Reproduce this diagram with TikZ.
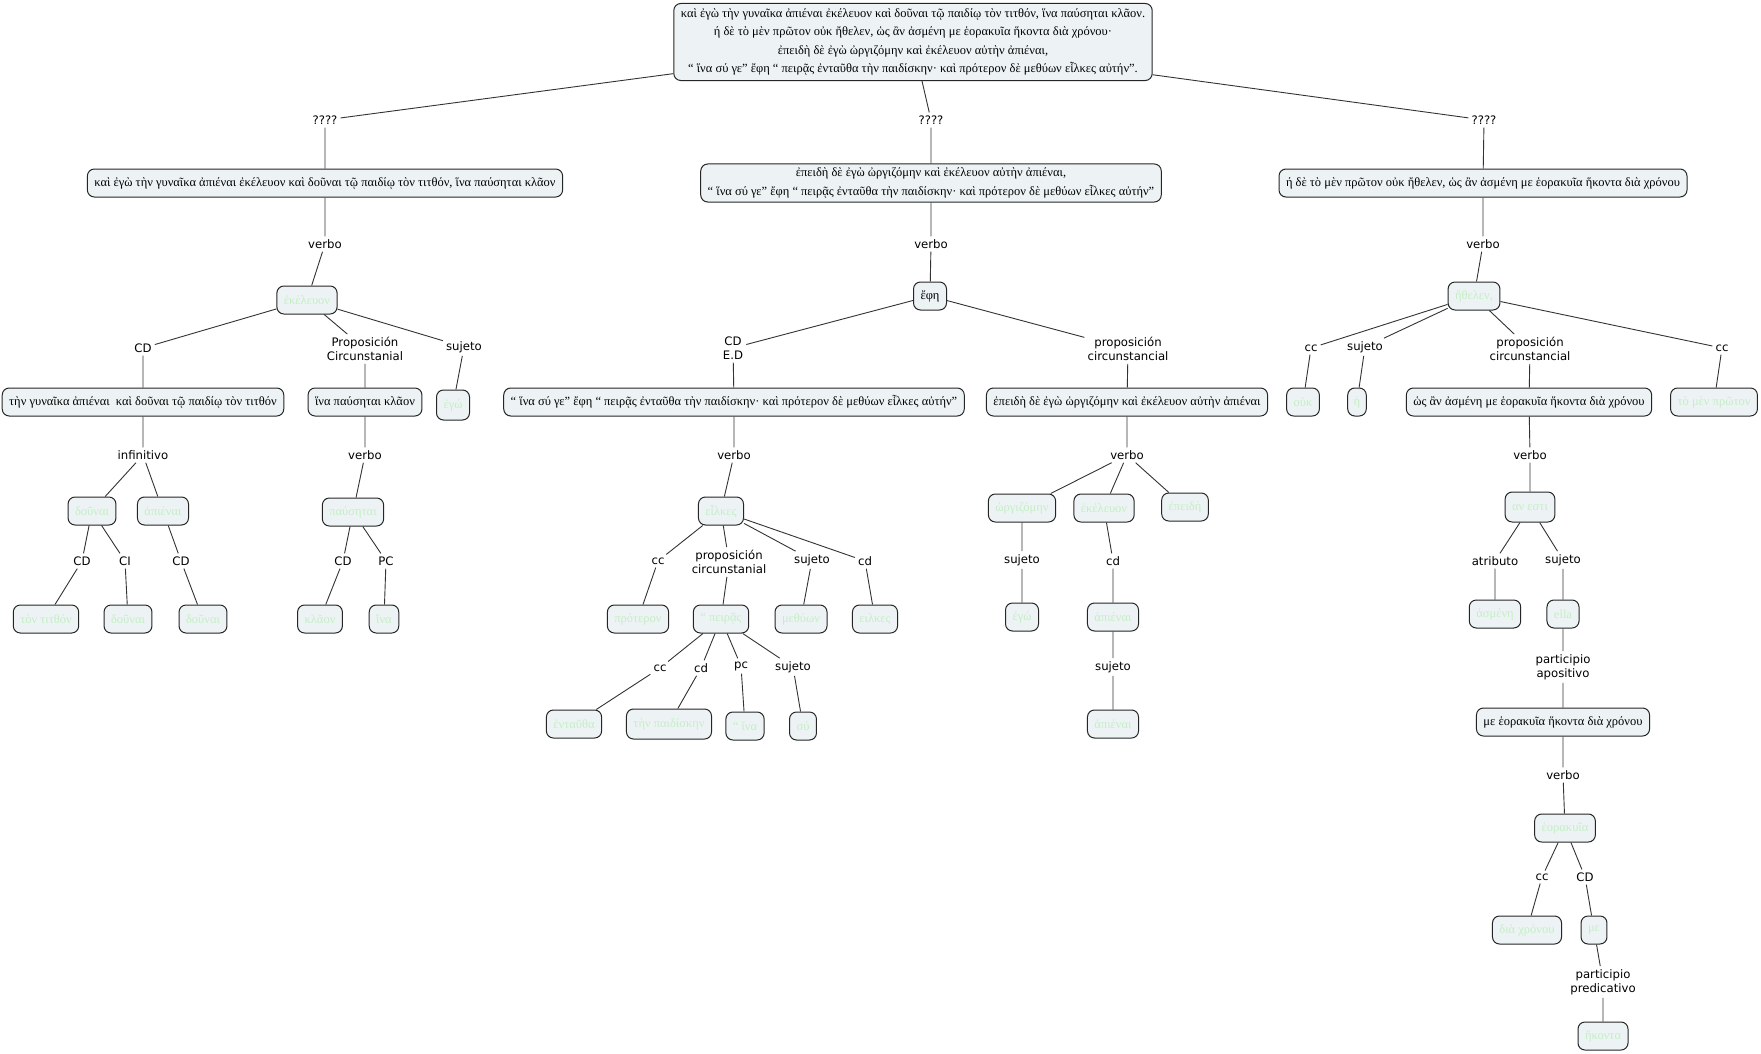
\documentclass[tikz,border=0pt]{standalone}
\usepackage{fontspec}
\setmainfont{Liberation Serif}
\newfontfamily\lblfont{DejaVu Sans}
\definecolor{boxfill}{RGB}{237,243,245}
\definecolor{faint}{RGB}{196,238,196}
\newcommand{\grk}{\fontsize{12.5}{18.5}\selectfont}
\newcommand{\lbf}{\lblfont\fontsize{11.7}{14}\selectfont}
\tikzset{
  box/.style={draw=black!85, fill=boxfill, rounded corners=7pt, line width=1pt,
    inner xsep=7pt, inner ysep=4pt, minimum height=28pt, font=\grk, align=center},
  fbox/.style={box, text=faint},
  lbl/.style={font=\lbf, inner sep=3pt, align=center},
  conn/.style={draw=black!80, line width=0.9pt}
}
\begin{document}
\begin{tikzpicture}[x=1pt,y=-1pt]
\useasboundingbox[fill=white] (0,0) rectangle (1761,1054);
% top
\node[box, inner ysep=5pt] (top) at (913,42) {καὶ ἐγὼ τὴν γυναῖκα ἀπιέναι ἐκέλευον καὶ δοῦναι τῷ παιδίῳ τὸν τιτθόν, ἵνα παύσηται κλᾶον.\\ ή δὲ τὸ μὲν πρῶτον οὐκ ἤθελεν, ὡς ἂν ἀσμένη με ἑορακυῖα ἥκοντα διὰ χρόνου·\\ ἐπειδὴ δὲ ἐγὼ ὠργιζόμην καὶ ἐκέλευον αὐτὴν ἀπιέναι,\\ “ ἵνα σύ γε” ἔφη “ πειρᾷς ἐνταῦθα τὴν παιδίσκην· καὶ πρότερον δὲ μεθύων εἷλκες αὐτήν”.};
\node[lbl] (q1) at (325,120) {????};
\node[lbl] (q2) at (931,120) {????};
\node[lbl] (q3) at (1484,120) {????};
\node[box] (L1a) at (325,183) {καὶ ἐγὼ τὴν γυναῖκα ἀπιέναι ἐκέλευον καὶ δοῦναι τῷ παιδίῳ τὸν τιτθόν, ἵνα παύσηται κλᾶον};
\node[box] (L1b) at (931,183) {ἐπειδὴ δὲ ἐγὼ ὠργιζόμην καὶ ἐκέλευον αὐτὴν ἀπιέναι,\\ “ ἵνα σύ γε” ἔφη “ πειρᾷς ἐνταῦθα τὴν παιδίσκην· καὶ πρότερον δὲ μεθύων εἷλκες αὐτήν”};
\node[box] (L1c) at (1483,183) {ή δὲ τὸ μὲν πρῶτον οὐκ ἤθελεν, ὡς ἂν ἀσμένη με ἑορακυῖα ἥκοντα διὰ χρόνου};
\node[lbl] (v1) at (325,244) {verbo};
\node[lbl] (v2) at (931,244) {verbo};
\node[lbl] (v3) at (1483,244) {verbo};
\node[fbox] (ekel) at (307,300) {ἐκέλευον};
\node[box] (ephe) at (930,296) {ἔφη};
\node[fbox] (ethel) at (1474,296) {ἤθελεν,};
% left subtree
\node[lbl] (cdA) at (143,348) {CD};
\node[lbl] (propA) at (365,349) {Proposición\\Circunstanial};
\node[lbl] (sujA) at (464,347) {sujeto};
\node[box] (tgyn) at (143,402) {τὴν γυναῖκα ἀπιέναι \ καὶ δοῦναι τῷ παιδίῳ τὸν τιτθόν};
\node[box] (inaP) at (365,402) {ἵνα παύσηται κλᾶον};
\node[fbox, minimum height=30pt] (ego1) at (453,405) {ἐγώ};
\node[lbl] (inf) at (143,455) {infinitivo};
\node[lbl] (verA) at (365,455) {verbo};
\node[fbox] (doun1) at (92,511) {δοῦναι};
\node[fbox] (apien1) at (163,511) {ἀπιέναι};
\node[fbox] (paus) at (353,512) {παύσηται};
\node[lbl] (cd1) at (82,561) {CD};
\node[lbl] (ci1) at (125,561) {CI};
\node[lbl] (cd2) at (181,561) {CD};
\node[lbl] (cd3) at (343,561) {CD};
\node[lbl] (pc1) at (386,561) {PC};
\node[fbox] (titth) at (46,619) {τὸν τιτθόν};
\node[fbox] (doun2) at (128,619) {δοῦναι};
\node[fbox] (doun3) at (203,619) {δοῦναι};
\node[fbox] (klaon) at (320,619) {κλᾶον};
\node[fbox] (ina1) at (384,619) {ἵνα};
% middle subtree
\node[lbl] (cdED) at (733,348) {CD\\E.D};
\node[lbl] (propB) at (1128,349) {proposición\\circunstancial};
\node[box] (quote) at (734,402) {“ ἵνα σύ γε” ἔφη “ πειρᾷς ἐνταῦθα τὴν παιδίσκην· καὶ πρότερον δὲ μεθύων εἷλκες αὐτήν”};
\node[box] (epei) at (1127,402) {ἐπειδὴ δὲ ἐγὼ ὠργιζόμην καὶ ἐκέλευον αὐτὴν ἀπιέναι};
\node[lbl] (verB) at (734,455) {verbo};
\node[lbl] (verC) at (1127,455) {verbo};
\node[fbox] (heilk) at (721,511) {εἷλκες};
\node[lbl] (cc1) at (658,561) {cc};
\node[lbl] (propC) at (729,562) {proposición\\circunstanial};
\node[lbl] (suj2) at (812,560) {sujeto};
\node[lbl] (cd4) at (865,561) {cd};
\node[fbox] (prot) at (638,619) {πρότερον};
\node[fbox] (peir) at (721,619) {“ πειρᾷς};
\node[fbox] (meth) at (801,619) {μεθύων};
\node[fbox] (eilk) at (875,619) {ειλκες};
\node[lbl] (cc2) at (660,668) {cc};
\node[lbl] (cd5) at (701,668) {cd};
\node[lbl] (pc2) at (741,666) {pc};
\node[lbl] (suj3) at (793,667) {sujeto};
\node[fbox] (entau) at (574,724) {ἐνταῦθα};
\node[fbox, minimum height=30pt] (paid) at (669,724) {τὴν παιδίσκην};
\node[fbox] (ina2) at (745,726) {“ ἵνα};
\node[fbox] (su) at (803,726) {σύ};
\node[fbox] (orgiz) at (1022,508) {ὠργιζόμην};
\node[fbox] (ekel2) at (1104,508) {ἐκέλευον};
\node[fbox] (epei2) at (1185,507) {ἐπειδὴ};
\node[lbl] (suj4) at (1022,560) {sujeto};
\node[lbl] (cd6) at (1113,561) {cd};
\node[fbox] (ego2) at (1022,617) {ἐγώ};
\node[fbox] (apien2) at (1113,617) {ἀπιέναι};
\node[lbl] (suj5) at (1113,667) {sujeto};
\node[fbox] (apien3) at (1113,724) {ἀπιέναι};
% right subtree
\node[lbl] (cc3) at (1311,348) {cc};
\node[lbl] (suj6) at (1365,347) {sujeto};
\node[lbl] (propD) at (1530,349) {proposición\\circunstancial};
\node[lbl] (cc4) at (1722,348) {cc};
\node[fbox] (ouk) at (1303,402) {οὐκ};
\node[fbox, inner xsep=6pt] (he) at (1357,402) {ή};
\node[box] (hos) at (1529,402) {ὡς ἂν ἀσμένη με ἑορακυῖα ἥκοντα διὰ χρόνου};
\node[fbox] (tomen) at (1714,402) {τὸ μὲν πρῶτον};
\node[lbl] (verD) at (1530,455) {verbo};
\node[fbox, minimum height=30pt] (anesti) at (1530,507) {αν εστι};
\node[lbl] (atr) at (1495,561) {atributo};
\node[lbl] (suj7) at (1563,560) {sujeto};
\node[fbox] (asmen) at (1495,614) {ἀσμένη};
\node[fbox] (ella) at (1563,614) {ella};
\node[lbl] (partA) at (1563,667) {participio\\apositivo};
\node[box] (me1) at (1563,722) {με ἑορακυῖα ἥκοντα διὰ χρόνου};
\node[lbl] (verE) at (1563,775) {verbo};
\node[fbox] (eorak) at (1565,828) {ἑορακυῖα};
\node[lbl] (cc5) at (1542,877) {cc};
\node[lbl] (cd7) at (1585,877) {CD};
\node[fbox] (diax) at (1527,930) {διὰ χρόνου};
\node[fbox] (me2) at (1594,930) {με};
\node[lbl] (partP) at (1603,982) {participio\\predicativo};
\node[fbox] (hekon) at (1603,1036) {ἥκοντα};
% connectors
\path[conn]
 (top) -- (q1) (top) -- (q2) (top) -- (q3)
 (q1) -- (L1a) (q2) -- (L1b) (q3) -- (L1c)
 (L1a) -- (v1) (v1) -- (ekel)
 (L1b) -- (v2) (v2) -- (ephe)
 (L1c) -- (v3) (v3) -- (ethel)
 (ekel) -- (cdA) (cdA) -- (tgyn)
 (ekel) -- (propA) (propA) -- (inaP)
 (ekel) -- (sujA) (sujA) -- (ego1)
 (tgyn) -- (inf) (inf) -- (doun1) (inf) -- (apien1)
 (inaP) -- (verA) (verA) -- (paus)
 (doun1) -- (cd1) (cd1) -- (titth)
 (doun1) -- (ci1) (ci1) -- (doun2)
 (apien1) -- (cd2) (cd2) -- (doun3)
 (paus) -- (cd3) (cd3) -- (klaon)
 (paus) -- (pc1) (pc1) -- (ina1)
 (ephe) -- (cdED) (cdED) -- (quote)
 (ephe) -- (propB) (propB) -- (epei)
 (quote) -- (verB) (verB) -- (heilk)
 (heilk) -- (cc1) (cc1) -- (prot)
 (heilk) -- (propC) (propC) -- (peir)
 (heilk) -- (suj2) (suj2) -- (meth)
 (heilk) -- (cd4) (cd4) -- (eilk)
 (peir) -- (cc2) (cc2) -- (entau)
 (peir) -- (cd5) (cd5) -- (paid)
 (peir) -- (pc2) (pc2) -- (ina2)
 (peir) -- (suj3) (suj3) -- (su)
 (epei) -- (verC) (verC) -- (orgiz) (verC) -- (ekel2) (verC) -- (epei2)
 (orgiz) -- (suj4) (suj4) -- (ego2)
 (ekel2) -- (cd6) (cd6) -- (apien2)
 (apien2) -- (suj5) (suj5) -- (apien3)
 (ethel) -- (cc3) (cc3) -- (ouk)
 (ethel) -- (suj6) (suj6) -- (he)
 (ethel) -- (propD) (propD) -- (hos)
 (ethel) -- (cc4) (cc4) -- (tomen)
 (hos) -- (verD) (verD) -- (anesti)
 (anesti) -- (atr) (atr) -- (asmen)
 (anesti) -- (suj7) (suj7) -- (ella)
 (ella) -- (partA) (partA) -- (me1)
 (me1) -- (verE) (verE) -- (eorak)
 (eorak) -- (cc5) (cc5) -- (diax)
 (eorak) -- (cd7) (cd7) -- (me2)
 (me2) -- (partP) (partP) -- (hekon);
\end{tikzpicture}
\end{document}
